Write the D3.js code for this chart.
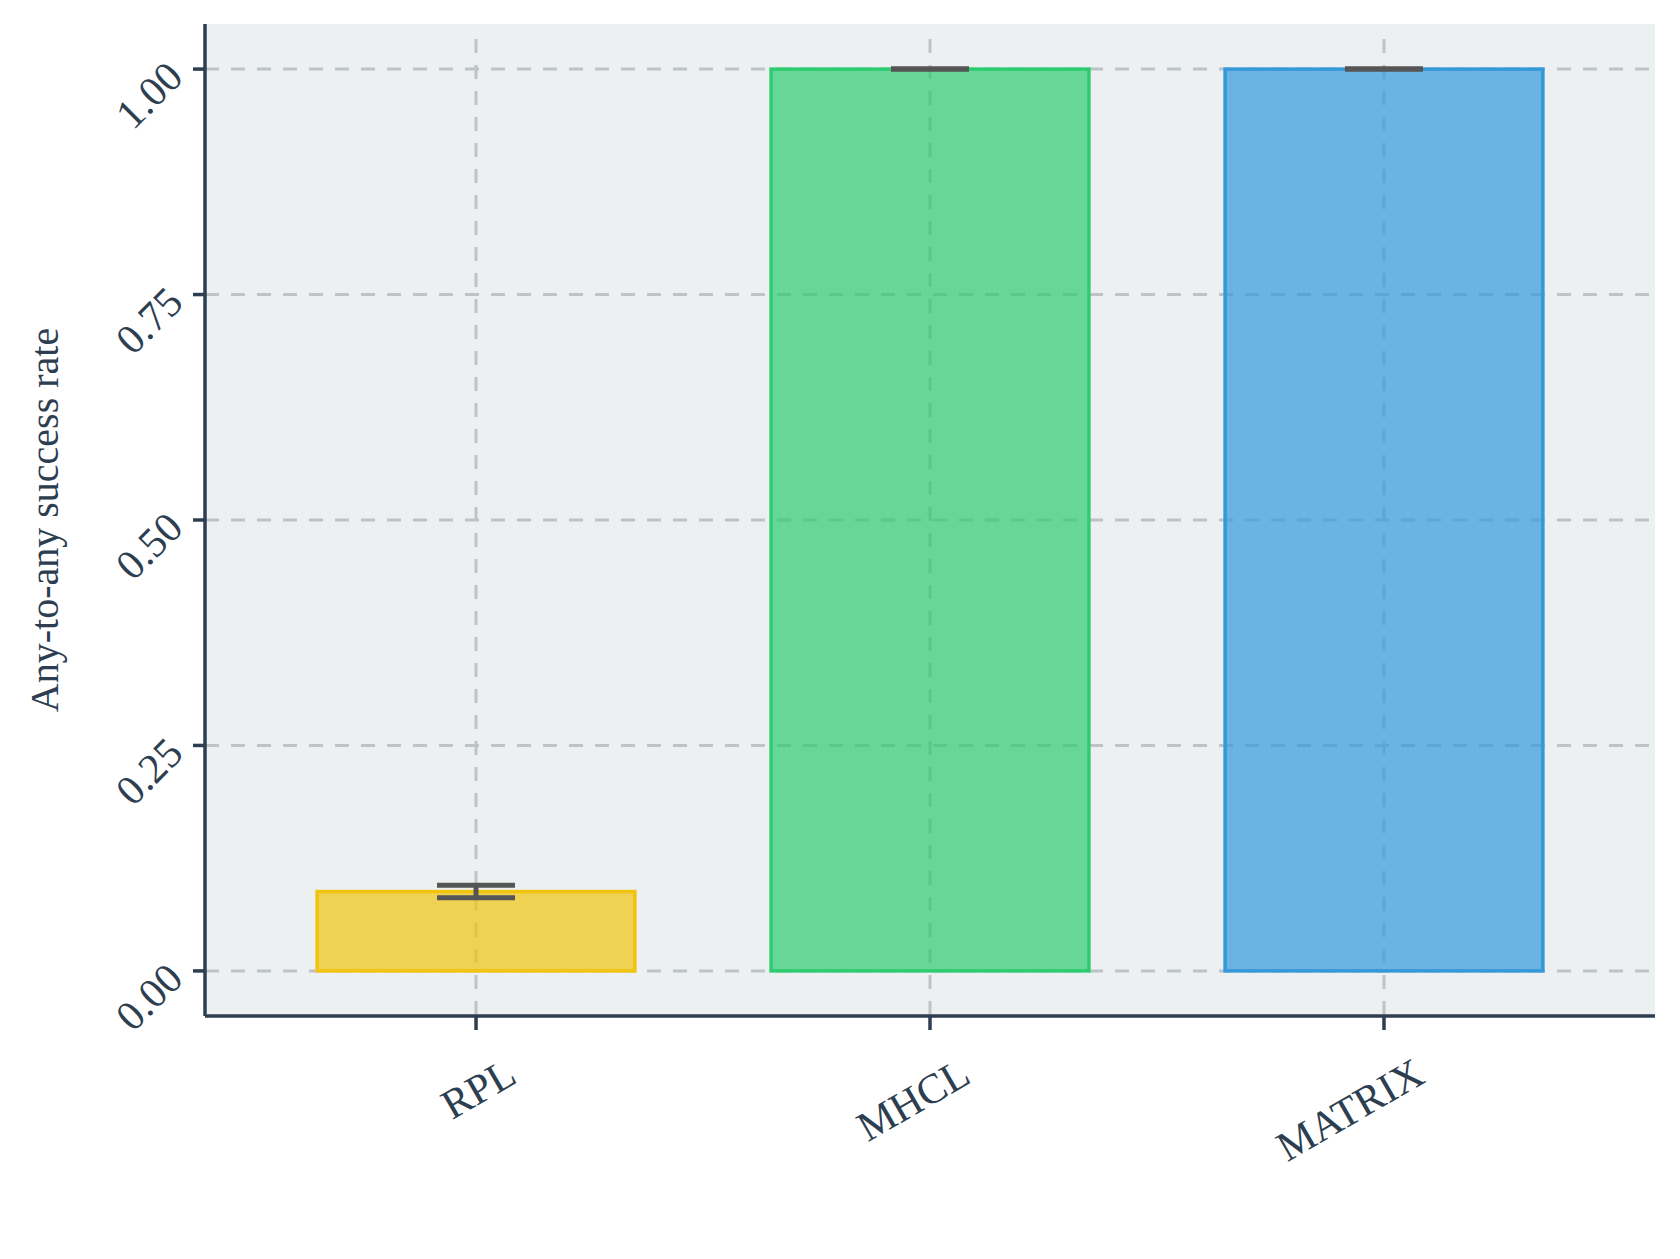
<!DOCTYPE html><html><head><meta charset="utf-8"><script src="https://cdn.jsdelivr.net/npm/d3@7"></script>
<style>body{margin:0;background:#fff}</style></head><body><svg id="c" width="1680" height="1259"></svg>
<script>
const categories=["RPL","MHCL","MATRIX"];
const values=[0.088,1.0,1.0];
const errLow=[0.081,1.0,1.0];
const errHigh=[0.095,1.0,1.0];
const colors=["#f1c40f","#2ecc71","#3498db"];
const yTicks=[0,0.25,0.5,0.75,1.0];
const svg=d3.select("#c");
const L=205,R=1655,T=24,B=1016;
const x=d3.scaleBand().domain(categories).range([L,R]).paddingInner(0.3).paddingOuter(0.247);
const y=d3.scaleLinear().domain([-0.05,1.05]).range([B,T]);
svg.append("rect").attr("x",L).attr("y",T).attr("width",R-L).attr("height",B-T).attr("fill","#ecf0f1");
const g=svg.append("g");
yTicks.forEach(t=>g.append("line").attr("x1",L).attr("x2",R).attr("y1",y(t)).attr("y2",y(t)).attr("stroke","#bdc3c7").attr("stroke-width",3).attr("stroke-dasharray","14,12"));
categories.forEach(c=>g.append("line").attr("x1",x(c)+x.bandwidth()/2).attr("x2",x(c)+x.bandwidth()/2).attr("y1",T+15).attr("y2",B).attr("stroke","#bdc3c7").attr("stroke-width",3).attr("stroke-dasharray","14,12"));
categories.forEach((c,i)=>{
 svg.append("rect").attr("x",x(c)).attr("y",y(values[i])).attr("width",x.bandwidth()).attr("height",y(0)-y(values[i])).attr("fill",colors[i]).attr("fill-opacity",0.7).attr("stroke",colors[i]).attr("stroke-width",3.5);
 const cx=x(c)+x.bandwidth()/2,w=39;
 const e=svg.append("g").attr("stroke","#555").attr("stroke-width",5);
 e.append("line").attr("x1",cx).attr("x2",cx).attr("y1",y(errLow[i])).attr("y2",y(errHigh[i]));
 e.append("line").attr("x1",cx-w).attr("x2",cx+w).attr("y1",y(errLow[i])).attr("y2",y(errLow[i]));
 e.append("line").attr("x1",cx-w).attr("x2",cx+w).attr("y1",y(errHigh[i])).attr("y2",y(errHigh[i]));
});
const ax="#2c3e50";
svg.append("line").attr("x1",L).attr("x2",L).attr("y1",T).attr("y2",B).attr("stroke",ax).attr("stroke-width",3.5);
svg.append("line").attr("x1",L).attr("x2",R).attr("y1",B).attr("y2",B).attr("stroke",ax).attr("stroke-width",3.5);
const font="'Liberation Serif','DejaVu Serif',serif";
yTicks.forEach(t=>{
 svg.append("line").attr("x1",L-12).attr("x2",L).attr("y1",y(t)).attr("y2",y(t)).attr("stroke",ax).attr("stroke-width",3.5);
 svg.append("text").attr("transform",`translate(${L-20},${y(t)+10}) rotate(-45)`).attr("text-anchor","end").attr("font-family",font).attr("font-size",42).attr("fill",ax).text(t.toFixed(2));
});
categories.forEach(c=>{
 const cx=x(c)+x.bandwidth()/2;
 svg.append("line").attr("x1",cx).attr("x2",cx).attr("y1",B).attr("y2",B+14).attr("stroke",ax).attr("stroke-width",3.5);
 svg.append("text").attr("transform",`translate(${cx+28},${B+40}) rotate(-30)`).attr("text-anchor","end").attr("dominant-baseline","hanging").attr("font-family",font).attr("font-size",42).attr("fill",ax).text(c);
});
svg.append("text").attr("transform",`translate(58,${(T+B)/2}) rotate(-90)`).attr("text-anchor","middle").attr("font-family",font).attr("font-size",40).attr("fill",ax).text("Any-to-any success rate");
</script></body></html>
